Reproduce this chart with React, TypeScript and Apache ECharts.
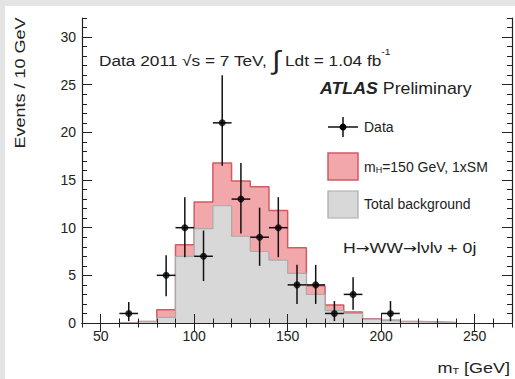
import React, { useEffect, useRef } from "react";
import * as echarts from "echarts";

// Histogram bins (lower edges, 10 GeV wide)
const binLow = [60, 70, 80, 90, 100, 110, 120, 130, 140, 150, 160, 170, 180, 190, 200, 210, 220, 230];
const background = [0.05, 0.15, 0.6, 7.0, 9.9, 12.3, 9.1, 7.5, 6.6, 5.2, 3.0, 1.3, 1.0, 0.4, 0.25, 0.15, 0.1, 0.05];
const signalPlusBackground = [0.05, 0.15, 1.4, 8.2, 12.7, 16.8, 14.9, 14.3, 11.8, 7.9, 3.9, 1.9, 1.15, 0.45, 0.3, 0.15, 0.1, 0.05];

// Data points
const dataX = [65, 85, 95, 105, 115, 125, 135, 145, 155, 165, 175, 185, 205];
const dataY = [1, 5, 10, 7, 21, 13, 9, 10, 4, 4, 1, 3, 1];
const errUp = [1.2, 2.1, 3.2, 2.7, 5.0, 3.8, 3.1, 3.2, 2.1, 2.1, 1.3, 1.8, 1.3];
const errDown = [0.8, 2.2, 3.1, 2.6, 4.5, 3.6, 3.0, 3.1, 2.0, 2.0, 0.8, 1.6, 0.8];

const xMajor = [50, 100, 150, 200, 250];
const xMinor = [40, 50, 60, 70, 80, 90, 100, 110, 120, 130, 140, 150, 160, 170, 180, 190, 200, 210, 220, 230, 240, 250, 260, 270];
const yMajor = [0, 5, 10, 15, 20, 25, 30];
const yMinor = [0, 1, 2, 3, 4, 5, 6, 7, 8, 9, 10, 11, 12, 13, 14, 15, 16, 17, 18, 19, 20, 21, 22, 23, 24, 25, 26, 27, 28, 29, 30, 31, 32];

const FONT = "'Liberation Sans', Arial, Helvetica, sans-serif";
const ARROW_FONT = "'DejaVu Sans', sans-serif";
const INK = "#222";

function stepData(vals: number[]) {
  const pts: number[][] = [[binLow[0], 0]];
  binLow.forEach((x, i) => pts.push([x, vals[i]]));
  pts.push([binLow[binLow.length - 1] + 10, 0]);
  return pts;
}

function xAxisDef(position: string, major: boolean) {
  return {
    type: "value",
    min: 40,
    max: 270,
    position,
    z: 10,
    axisLine: { show: major, lineStyle: { color: INK, width: 1.2 } },
    axisTick: {
      show: true,
      inside: true,
      length: major ? 9 : 4.5,
      customValues: major ? xMajor : xMinor,
      lineStyle: { color: INK, width: 1 },
    },
    axisLabel: {
      show: major && position === "bottom",
      customValues: xMajor,
      fontSize: 14,
      color: INK,
      fontFamily: FONT,
      margin: 6,
    },
    splitLine: { show: false },
  };
}

function yAxisDef(position: string, major: boolean) {
  return {
    type: "value",
    min: 0,
    max: 32,
    position,
    z: 10,
    axisLine: { show: major, lineStyle: { color: INK, width: 1.2 } },
    axisTick: {
      show: true,
      inside: true,
      length: major ? 10 : 5,
      customValues: major ? yMajor : yMinor,
      lineStyle: { color: INK, width: 1 },
    },
    axisLabel: {
      show: major && position === "left",
      customValues: yMajor,
      fontSize: 14,
      color: INK,
      fontFamily: FONT,
      margin: 6,
    },
    splitLine: { show: false },
  };
}

export default function App() {
  const ref = useRef<HTMLDivElement>(null);

  useEffect(() => {
    if (!ref.current) return;
    const chart = echarts.init(ref.current, undefined, { renderer: "svg" });

    const errData = dataX.map((x, i) => [x, dataY[i], dataY[i] - errDown[i], dataY[i] + errUp[i]]);

    const option: any = {
      animation: false,
      backgroundColor: "#e4e4e4",
      grid: { left: 82, right: 3, top: 18, bottom: 56 },
      xAxis: [
        xAxisDef("bottom", true),
        xAxisDef("bottom", false),
        xAxisDef("top", true),
        xAxisDef("top", false),
      ],
      yAxis: [
        yAxisDef("left", true),
        yAxisDef("left", false),
        yAxisDef("right", true),
        yAxisDef("right", false),
      ],
      graphic: [
        {
          type: "rect",
          z: -10,
          silent: true,
          shape: { x: 5, y: 6, width: 510, height: 373 },
          style: { fill: "#ffffff" },
        },
        {
          type: "text",
          x: 99,
          y: 60,
          scaleX: 1.15,
          z: 20,
          style: {
            text: "{a|Data 2011 √s = 7 TeV, }{i|∫}{a| Ldt = 1.04 fb}{s|-1}",
            verticalAlign: "middle",
            rich: {
              a: { fontSize: 15, fontFamily: FONT, fill: INK },
              i: { fontSize: 26, fontFamily: FONT, fill: INK },
              s: { fontSize: 9, fontFamily: FONT, fill: INK, verticalAlign: "top", padding: [0, 0, 10, 0] },
            },
          },
        },
        {
          type: "text",
          x: 320,
          y: 89,
          scaleX: 1.11,
          z: 20,
          style: {
            text: "{b|ATLAS}{a| Preliminary}",
            verticalAlign: "middle",
            rich: {
              b: { fontSize: 16, fontFamily: FONT, fontWeight: "bold", fontStyle: "italic", fill: INK },
              a: { fontSize: 16, fontFamily: FONT, fill: INK },
            },
          },
        },
        // legend: data marker
        { type: "line", z: 20, shape: { x1: 328, y1: 127, x2: 358, y2: 127 }, style: { stroke: "#111", lineWidth: 1.5 } },
        { type: "line", z: 20, shape: { x1: 343, y1: 117, x2: 343, y2: 137 }, style: { stroke: "#111", lineWidth: 1.5 } },
        { type: "circle", z: 21, shape: { cx: 343, cy: 127, r: 3.5 }, style: { fill: "#000" } },
        { type: "text", x: 364, y: 127, z: 20, style: { text: "Data", fontSize: 14, fontFamily: FONT, fill: INK, verticalAlign: "middle" } },
        // legend: signal
        {
          type: "rect",
          z: 20,
          shape: { x: 328, y: 153, width: 30, height: 27 },
          style: { fill: "#f2a7ab", stroke: "#d25a64", lineWidth: 1.5 },
        },
        {
          type: "text",
          x: 364,
          y: 167,
          z: 20,
          style: {
            text: "{a|m}{s|H}{a|=150 GeV, 1xSM}",
            verticalAlign: "middle",
            rich: {
              a: { fontSize: 14, fontFamily: FONT, fill: INK },
              s: { fontSize: 9, fontFamily: FONT, fill: INK, verticalAlign: "bottom", padding: [6, 0, 0, 0] },
            },
          },
        },
        // legend: background
        {
          type: "rect",
          z: 20,
          shape: { x: 328, y: 191, width: 30, height: 27 },
          style: { fill: "#d8d8d8", stroke: "#aaaaaa", lineWidth: 1.2 },
        },
        { type: "text", x: 364, y: 204, z: 20, style: { text: "Total background", fontSize: 14, fontFamily: FONT, fill: INK, verticalAlign: "middle" } },
        {
          type: "text",
          x: 343,
          y: 248,
          scaleX: 1.18,
          z: 20,
          style: {
            text: "{a|H}{r|→}{a|WW}{r|→}{a|lνlν + 0j}",
            verticalAlign: "middle",
            rich: {
              a: { fontSize: 15, fontFamily: FONT, fill: INK },
              r: { fontSize: 14, fontFamily: ARROW_FONT, fill: INK },
            },
          },
        },
        // axis titles
        {
          type: "text",
          x: 20,
          y: 83,
          rotation: Math.PI / 2,
          scaleX: 1.2,
          z: 20,
          style: { text: "Events / 10 GeV", fontSize: 15, fontFamily: FONT, fill: INK, align: "center", verticalAlign: "middle" },
        },
        {
          type: "text",
          x: 510,
          y: 368,
          scaleX: 1.2,
          z: 20,
          style: {
            text: "{a|m}{s|T}{a| [GeV]}",
            align: "right",
            verticalAlign: "middle",
            rich: {
              a: { fontSize: 15, fontFamily: FONT, fill: INK },
              s: { fontSize: 9, fontFamily: FONT, fill: INK, verticalAlign: "bottom", padding: [6, 0, 0, 0] },
            },
          },
        },
      ],
      series: [
        {
          name: "signal",
          type: "line",
          step: "end",
          xAxisIndex: 0,
          yAxisIndex: 0,
          symbol: "none",
          z: 2,
          data: stepData(signalPlusBackground),
          lineStyle: { color: "#d25a64", width: 1.5 },
          areaStyle: { color: "#f2a7ab", opacity: 1 },
        },
        {
          name: "background",
          type: "line",
          step: "end",
          xAxisIndex: 0,
          yAxisIndex: 0,
          symbol: "none",
          z: 3,
          data: stepData(background),
          lineStyle: { color: "#aaaaaa", width: 1.2 },
          areaStyle: { color: "#d8d8d8", opacity: 1 },
        },
        {
          name: "errors",
          type: "custom",
          xAxisIndex: 0,
          yAxisIndex: 0,
          z: 5,
          data: errData,
          renderItem: (params: any, api: any) => {
            const x = api.value(0);
            const y = api.value(1);
            const lo = api.value(2);
            const hi = api.value(3);
            const pLo = api.coord([x, lo]);
            const pHi = api.coord([x, hi]);
            const pL = api.coord([x - 5, y]);
            const pR = api.coord([x + 5, y]);
            const st = { stroke: "#111", lineWidth: 1.5 };
            return {
              type: "group",
              children: [
                { type: "line", shape: { x1: pLo[0], y1: pLo[1], x2: pHi[0], y2: pHi[1] }, style: st },
                { type: "line", shape: { x1: pL[0], y1: pL[1], x2: pR[0], y2: pR[1] }, style: st },
              ],
            };
          },
        },
        {
          name: "Data",
          type: "scatter",
          xAxisIndex: 0,
          yAxisIndex: 0,
          z: 6,
          symbol: "circle",
          symbolSize: 7,
          itemStyle: { color: "#000" },
          data: dataX.map((x, i) => [x, dataY[i]]),
        },
      ],
    };

    chart.setOption(option);
    return () => chart.dispose();
  }, []);

  return <div ref={ref} style={{ position: "absolute", left: 0, top: 0, width: 515, height: 379 }} />;
}
